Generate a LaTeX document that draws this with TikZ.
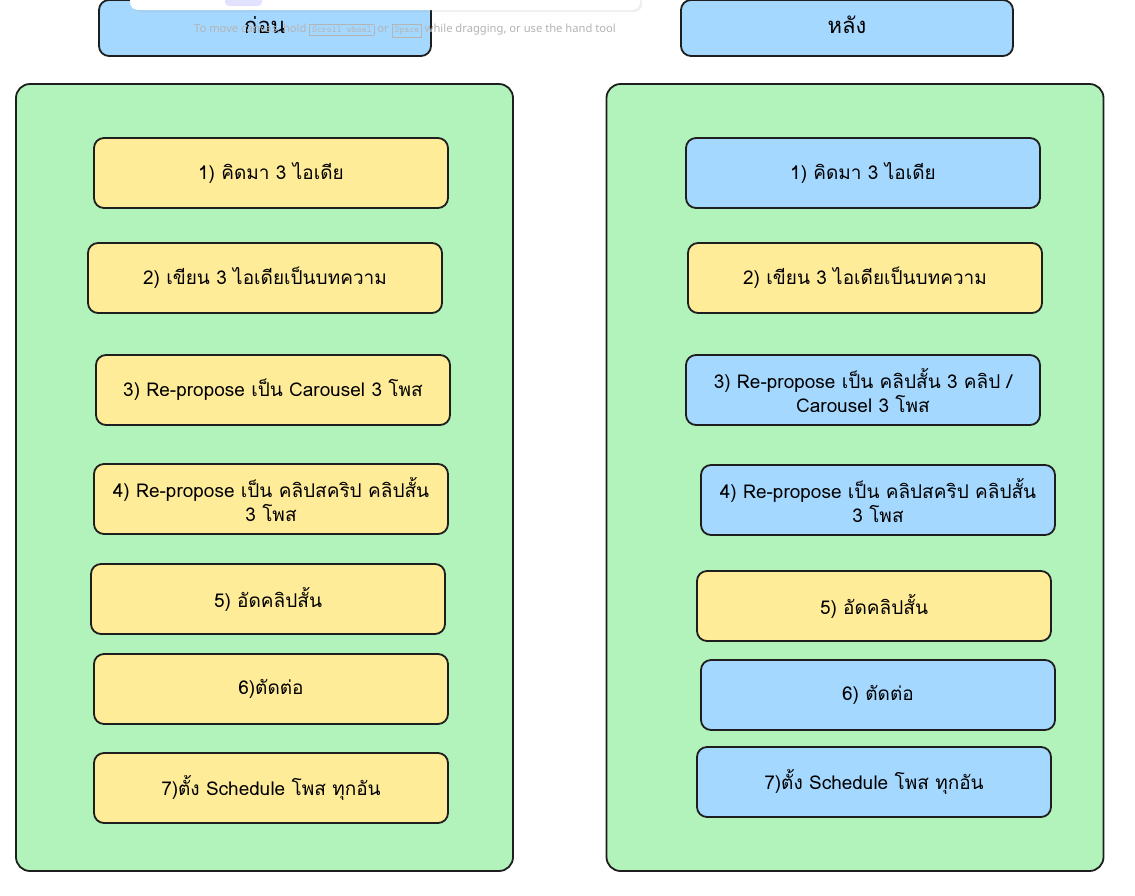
\documentclass[tikz,border=0pt]{standalone}
\usepackage{fontspec}
\newfontfamily\thaifont[Script=Thai]{Loma}
\newfontfamily\uifont{Noto Sans}
\usepackage{xcolor}
\usetikzlibrary{positioning,shadows}

\definecolor{panelgreen}{HTML}{B2F2BB}
\definecolor{stepyellow}{HTML}{FFEC99}
\definecolor{stepblue}{HTML}{A5D8FF}
\definecolor{inkdark}{HTML}{1E1E1E}
\definecolor{hintgray}{HTML}{B4B4B4}
\definecolor{toollilac}{HTML}{E3E2FE}

\newcommand\keycap[1]{{\setlength\fboxsep{2pt}\setlength\fboxrule{0.6pt}\color{hintgray}\fbox{\ttfamily\fontsize{9.5}{11}\selectfont #1}}}

\begin{document}
\begin{tikzpicture}[
    x=1pt, y=-1pt,
    font=\thaifont\fontsize{19}{24}\selectfont,
    panel/.style={draw=inkdark, fill=panelgreen, line width=1.8pt, rounded corners=14pt,
      minimum width=497pt, minimum height=787pt},
    header/.style={draw=inkdark, fill=stepblue, line width=1.8pt, rounded corners=10pt,
      minimum width=332pt, minimum height=56pt},
    stepbox/.style={draw=inkdark, line width=1.8pt, rounded corners=10pt,
      minimum width=354pt, minimum height=70pt, text width=344pt, align=center}
  ]
    \clip (0,0) rectangle (1135,895);
    \fill[white] (0,0) rectangle (1135,895);

    % two columns
    \node[panel] (before) at (264.5,477.5) {};
    \node[panel] (after) at (855,477.5) {};

    % steps before
    \foreach \i/\x/\y/\c/\t in {
        1/271/173/stepyellow/{1) คิดมา 3 ไอเดีย},
        2/265/278/stepyellow/{2) เขียน 3 ไอเดียเป็นบทความ},
        3/273/390/stepyellow/{3) Re-propose เป็น Carousel 3 โพส},
        4/271/499/stepyellow/{4) Re-propose เป็น คลิปสคริป คลิปสั้น\\ 3 โพส},
        5/268/599/stepyellow/{5) อัดคลิปสั้น},
        6/271/689/stepyellow/{6)ตัดต่อ},
        7/271/788/stepyellow/{7)ตั้ง Schedule โพส ทุกอัน}} {
      \node[stepbox, fill=\c] (b\i) at (\x,\y) {\t};
    }

    % steps after
    \foreach \i/\x/\y/\c/\t in {
        1/863/173/stepblue/{1) คิดมา 3 ไอเดีย},
        2/865/278/stepyellow/{2) เขียน 3 ไอเดียเป็นบทความ},
        3/863/390/stepblue/{3) Re-propose เป็น คลิปสั้น 3 คลิป /\\ Carousel 3 โพส},
        4/878/500/stepblue/{4) Re-propose เป็น คลิปสคริป คลิปสั้น\\ 3 โพส},
        5/874/606/stepyellow/{5) อัดคลิปสั้น},
        6/878/695/stepblue/{6) ตัดต่อ},
        7/874/782/stepblue/{7)ตั้ง Schedule โพส ทุกอัน}} {
      \node[stepbox, fill=\c] (a\i) at (\x,\y) {\t};
    }

    % headings
    \node[header] (beforetitle) at (265,28) {};
    \node[header] (aftertitle) at (847,28) {};
    \node[font=\thaifont\fontsize{22}{26}\selectfont] at (beforetitle.center) [yshift=3pt] {ก่อน};
    \node[font=\thaifont\fontsize{22}{26}\selectfont] at (aftertitle.center) [yshift=3pt] {หลัง};

    % editor overlay
    \fill[white, rounded corners=8pt, drop shadow={opacity=0.12, shadow yshift=-2pt}]
      (130,-20) rectangle (640,10);
    \fill[toollilac, rounded corners=4pt] (225,-10) rectangle (262,6);
    \node[font=\uifont\fontsize{11.2}{13}\selectfont, text=hintgray] (hint) at (405,31)
      {To move canvas, hold \keycap{Scroll wheel} or \keycap{Space} while dragging, or use the hand tool};
  \end{tikzpicture}
\end{document}
